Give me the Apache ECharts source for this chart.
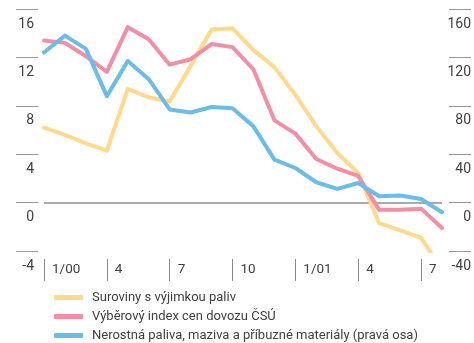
<!DOCTYPE html>
<html>
<head>
<meta charset="utf-8">
<script src="https://cdn.jsdelivr.net/npm/echarts@6/dist/echarts.min.js"></script>
<style>
  html, body { margin: 0; padding: 0; background: #fff; }
  #chart { width: 474px; height: 343px; }
</style>
</head>
<body>
<div id="chart"></div>
<script>
// Months 1/2000 – 8/2001; only every third month gets a label
const months = ['1/00','2','3','4','5','6','7','8','9','10','11','12',
                '1/01','2','3','4','5','6','7','8'];

// Left axis (%)
const suroviny = [6.2, 5.6, 4.9, 4.3, 9.4, 8.7, 8.35, 11.3, 14.3, 14.4,
                  12.6, 11.2, 8.9, 6.3, 4.1, 2.45, -1.7, -2.3, -2.9, -5.6];
const vyberovy = [13.4, 13.2, 12.1, 10.8, 14.5, 13.5, 11.4, 11.85, 13.1, 12.85,
                  11.0, 6.8, 5.7, 3.6, 2.8, 2.2, -0.6, -0.6, -0.5, -2.1];
// Right axis (%)
const nerostna = [124, 138, 127, 88, 117, 102, 77, 74.5, 79, 78,
                  63, 35.5, 28.6, 16.8, 11.3, 16.2, 5.2, 5.8, 3, -8];

// Axis ranges
const leftRange = { min: -4, max: 16, interval: 4 };
const rightRange = { min: -40, max: 160, interval: 40 };

const seriesNames = [
  'Suroviny s výjimkou paliv',
  'Výběrový index cen dovozu ČSÚ',
  'Nerostná paliva, maziva a příbuzné materiály (pravá osa)'
];
const colors = ['#FFD98C', '#F28EA6', '#6CBCE8'];

const font = 'Roboto, "Noto Sans", sans-serif';
const txt = '#404040';
const tickColor = '#9a9a9a';
// axis line is kept (white) so that the detached tick marks get drawn
const whiteLine = { show: true, onZero: false, lineStyle: { color: '#ffffff', width: 1 } };

const chart = echarts.init(document.getElementById('chart'), null, { renderer: 'canvas' });

function lineSeries(name, data, yIdx, color, z) {
  return {
    name, type: 'line', data, yAxisIndex: yIdx,
    symbol: 'none', smooth: false, clip: true, z,
    lineStyle: { color, width: 4, cap: 'round', join: 'round' },
    itemStyle: { color }
  };
}

const s1 = lineSeries(seriesNames[0], suroviny, 0, colors[0], 3);
s1.markLine = {
  silent: true, symbol: 'none', label: { show: false },
  lineStyle: { color: '#aaaaaa', width: 2, type: 'solid' },
  data: [{ yAxis: 0 }],
  z: 1
};

// One single-row legend per series, stacked under the plot
const legendTops = [291, 310, 329];
const legends = seriesNames.map((n, i) => ({
  left: 54, top: legendTops[i], padding: 0,
  itemWidth: 29, itemHeight: 5,
  icon: 'roundRect',
  textStyle: { fontFamily: font, fontSize: 13, color: txt, padding: [0, 0, 0, 4] },
  data: [n]
}));

// Narrow side strips whose split lines form the short tick rules next to the labels
const hiddenX = (gridIndex) => ({
  type: 'value', gridIndex, min: 0, max: 1,
  axisLine: { show: false }, axisTick: { show: false },
  axisLabel: { show: false }, splitLine: { show: false }
});
const ruleY = (gridIndex, range) => ({
  type: 'value', gridIndex, ...range,
  axisLine: { show: false }, axisTick: { show: false }, axisLabel: { show: false },
  splitLine: { show: true, lineStyle: { color: tickColor, width: 1 } }
});

chart.setOption({
  animation: false,
  textStyle: { fontFamily: font },
  grid: [
    { left: 44, right: 32, top: 9, bottom: 92 },
    { left: 16, width: 22, top: 9, bottom: 92 },
    { left: 449, width: 22, top: 9, bottom: 92 }
  ],
  legend: legends,
  xAxis: [
    {
      type: 'category', data: months, boundaryGap: false, gridIndex: 0,
      offset: 8,
      axisLine: whiteLine,
      axisTick: { show: true, length: 22, interval: (i) => i % 3 === 0,
                  lineStyle: { color: '#888', width: 1 } },
      axisLabel: { interval: (i) => i % 3 === 0, align: 'left', verticalAlign: 'middle',
                   margin: 11, padding: [0, 0, 0, 8],
                   fontFamily: font, fontSize: 13.5, color: txt },
      splitLine: { show: false }
    },
    hiddenX(1),
    hiddenX(2)
  ],
  yAxis: [
    {
      type: 'value', ...leftRange, gridIndex: 0, position: 'left', offset: 6,
      axisLine: { show: false }, axisTick: { show: false },
      axisLabel: { margin: 4, verticalAlign: 'top', padding: [8, 0, 0, 0],
                   fontFamily: font, fontSize: 14, color: txt },
      splitLine: { show: false }
    },
    {
      type: 'value', ...rightRange, gridIndex: 0, position: 'right', offset: 7,
      axisLine: { show: false }, axisTick: { show: false },
      axisLabel: { margin: 22, align: 'right', verticalAlign: 'top', padding: [8, 0, 0, 0],
                   fontFamily: font, fontSize: 14, color: txt },
      splitLine: { show: false }
    },
    ruleY(1, leftRange),
    ruleY(2, rightRange)
  ],
  series: [
    s1,
    lineSeries(seriesNames[1], vyberovy, 0, colors[1], 4),
    lineSeries(seriesNames[2], nerostna, 1, colors[2], 5)
  ]
});
</script>
</body>
</html>
